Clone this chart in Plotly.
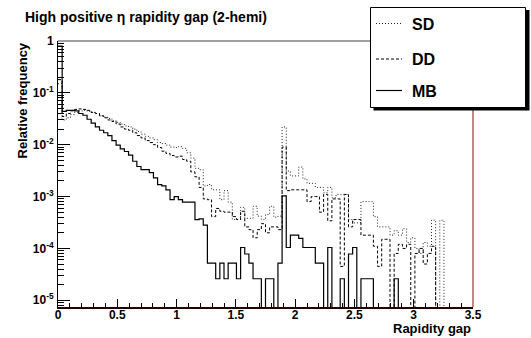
import numpy as np
import plotly.graph_objects as go

# ---------------- data ----------------
n_bins = 100
gap_min, gap_max = 0.0, 3.5

sd_freq = [0.15, 0.030, 0.033, 0.038, 0.042, 0.045, 0.046, 0.044, 0.042, 0.040,
           0.036, 0.034, 0.032, 0.029, 0.027, 0.025, 0.023, 0.022, 0.020, 0.018,
           0.016, 0.0145, 0.0135, 0.0125, 0.0110, 0.0105, 0.0098, 0.0090, 0.0088, 0.0092,
           0.0085, 0.0070, 0.0055, 0.0035, 0.0033, 0.0016, 0.0017, 0.00135, 0.00135, 0.00087,
           0.0013, 0.00078, 0.00036, 0.00036, 0.00062, 0.00038, 0.00038, 0.00065, 0.00042, 0.00036,
           0.00045, 0.00065, 0.00040, 0.00042, 0.022, 0.0031, 0.0025, 0.0025, 0.0037, 0.0022,
           0.0018, 0.0018, 0.0015, 0.0015, 0.00118, 0.0015, 0.00095, 0.0011, 0.0011, 0.0011,
           0.00036, 0.00031, 0.00031, 0.0008, 0.0008, 0.0008, 0.00041, 0.00026, 0.00026, 0.00026,
           0.00018, 0.00022, 0.00018, 0.00024, 0.00013, 0.00016, 0.00010, 0.00008, 0.00013, 0.00011,
           0.00035, 0, 0.00035, 0, 0, 0, 0, 0, 0, 0]

dd_freq = [0.18, 0.035, 0.040, 0.045, 0.048, 0.049, 0.048, 0.046, 0.042, 0.040,
           0.036, 0.033, 0.030, 0.028, 0.025, 0.022, 0.020, 0.019, 0.017, 0.015,
           0.0135, 0.012, 0.011, 0.0100, 0.0088, 0.0075, 0.0068, 0.0062, 0.0058, 0.0060,
           0.0052, 0.0048, 0.0030, 0.0024, 0.0015, 0.0009, 0.00087, 0.00041, 0.00059, 0.00052,
           0.0005, 0.0005, 0.00041, 0.00036, 0.00052, 0.00026, 0.00023, 0.00016, 0.00023, 0.0003,
           0.0002, 0.00026, 0.00026, 0.00023, 0.009, 0.0013, 0.00135, 0.00135, 0.00135, 0.00135,
           0.0008, 0.0010, 0.0010, 0.0005, 0.0011, 0.00034, 0.0009, 0.0009, 0.000045, 0.0011,
           0.00026, 0.00036, 0.00036, 0.00018, 0.00018, 0.00018, 0.00011, 0.000045, 0.00015, 0.00015,
           0, 0.00008, 0.00012, 0.0001, 0.00012, 0, 0.00008, 0.0001, 0.00005, 0.00008,
           0.00011, 0, 0, 0, 0, 0, 0, 0, 0, 0]

mb_freq = [0.8, 0.044, 0.046, 0.046, 0.045, 0.040, 0.037, 0.031, 0.026, 0.022,
           0.019, 0.017, 0.0150, 0.0120, 0.0098, 0.0083, 0.0074, 0.0063, 0.0048, 0.0038,
           0.0033, 0.0033, 0.0029, 0.0023, 0.0017, 0.0016, 0.00135, 0.00087, 0.00100, 0.00087,
           0.00078, 0.00078, 0.00078, 0.00036, 0.00037, 0.00028, 5.2e-5, 5.2e-5, 2.6e-5, 5.2e-5,
           2.6e-5, 5.2e-5, 5.2e-5, 2.6e-5, 1.04e-4, 7.8e-5, 5.2e-5, 2.6e-5, 2.6e-5, 0,
           2.6e-5, 2.6e-5, 0, 5.2e-5, 1.03e-3, 1.04e-4, 1.8e-4, 1.8e-4, 1.56e-4, 1.04e-4,
           1.04e-4, 1.04e-4, 5.2e-5, 5.2e-5, 0, 1.04e-4, 0, 0, 2.6e-5, 0,
           7.8e-5, 1.04e-4, 0, 2.6e-5, 2.6e-5, 2.6e-5, 0, 0, 0, 0,
           0, 2.6e-5, 0, 0, 0, 0, 0, 0, 0, 0,
           0, 0, 0, 0, 0, 0, 0, 0, 0, 0]

x_tick_vals = [0, 0.5, 1, 1.5, 2, 2.5, 3, 3.5]
x_tick_text = ["0", "0.5", "1", "1.5", "2", "2.5", "3", "3.5"]
y_tick_vals = [1e-5, 1e-4, 1e-3, 1e-2, 1e-1, 1]
y_tick_text = ["10<sup>-5</sup>", "10<sup>-4</sup>", "10<sup>-3</sup>",
               "10<sup>-2</sup>", "10<sup>-1</sup>", "1"]

series_names = ["SD", "DD", "MB"]

# ---------------- figure ----------------
W, H = 531, 338
ML, MR, MT, MB_ = 58, 58, 41, 31
PW, PH = W - ML - MR, H - MT - MB_

def px(x, y):
    return (x - ML) / PW, (H - MB_ - y) / PH

edges = np.linspace(gap_min, gap_max, n_bins + 1)
TINY = 1e-12

def step_y(vals):
    v = [val if val > 0 else TINY for val in vals]
    return v + [v[-1]]

styles = {
    "SD": dict(color="#222222", width=1, dash="1px,2px"),
    "DD": dict(color="black", width=1, dash="3px,2px"),
    "MB": dict(color="black", width=1.2, dash="solid"),
}
series = {"SD": sd_freq, "DD": dd_freq, "MB": mb_freq}

fig = go.Figure()
for name in series_names:
    fig.add_trace(go.Scatter(
        x=edges, y=step_y(series[name]), mode="lines", line_shape="hv",
        line=styles[name], name=name, showlegend=False, hoverinfo="skip"))

FONT = "Liberation Sans, Arial, Helvetica, sans-serif"

minor_y = [m * 10.0 ** k for k in range(-6, 1) for m in range(2, 10)]

fig.update_layout(
    width=W, height=H,
    margin=dict(l=ML, r=MR, t=MT, b=MB_, pad=0),
    paper_bgcolor="white", plot_bgcolor="white",
    font=dict(family=FONT, size=12, color="black", weight="bold"),
    xaxis=dict(range=[gap_min, gap_max], showgrid=False, zeroline=False,
               showline=True, linecolor="#200000", linewidth=1.5,
               ticks="inside", ticklen=8, tickwidth=1, tickcolor="black",
               tickmode="array", tickvals=x_tick_vals, ticktext=x_tick_text,
               tickfont=dict(size=12, family=FONT, weight="bold"),
               ticklabelstandoff=-4,
               minor=dict(ticks="inside", ticklen=4, tickwidth=1, tickcolor="black",
                          dtick=0.1, tick0=0, showgrid=False)),
    yaxis=dict(type="log", range=[-5.13, 0], showgrid=False, zeroline=False,
               showline=True, linecolor="black", linewidth=1,
               ticks="inside", ticklen=12, tickwidth=1, tickcolor="black",
               tickmode="array", tickvals=y_tick_vals, ticktext=y_tick_text,
               tickfont=dict(size=12, family=FONT, weight="bold"),
               ticklabelstandoff=1,
               minor=dict(ticks="inside", ticklen=6, tickwidth=1, tickcolor="black",
                          tickmode="array", tickvals=minor_y, showgrid=False)),
)

shapes = []
# frame top and right
shapes.append(dict(type="line", xref="paper", yref="paper", x0=0, x1=1, y0=1, y1=1,
                   line=dict(color="#404040", width=1), layer="above"))
shapes.append(dict(type="line", xref="paper", yref="paper", x0=1, x1=1, y0=0, y1=1,
                   line=dict(color="#8b1010", width=1), layer="above"))
# legend shadow and box
sx0, sy0 = px(373.5, 10)
sx1, sy1 = px(529.5, 110.5)
shapes.append(dict(type="rect", xref="paper", yref="paper", x0=sx0, x1=sx1, y0=sy0, y1=sy1,
                   fillcolor="black", line=dict(width=0), layer="above"))
bx0, by0 = px(370.5, 7.5)
bx1, by1 = px(525.5, 107.5)
shapes.append(dict(type="rect", xref="paper", yref="paper", x0=bx0, x1=bx1, y0=by0, y1=by1,
                   fillcolor="white", line=dict(color="black", width=1), layer="above"))

annotations = []
legend_rows = {"SD": 23.5, "DD": 59.0, "MB": 90.5}
for name in series_names:
    yy = legend_rows[name]
    lx0, ly = px(376, yy)
    lx1, _ = px(402, yy)
    st = styles[name]
    shapes.append(dict(type="line", xref="paper", yref="paper", x0=lx0, x1=lx1, y0=ly, y1=ly,
                       line=dict(color=st["color"], width=st["width"], dash=st["dash"]),
                       layer="above"))
    tx, ty = px(409.5, yy + 0.5)
    annotations.append(dict(text="<b>" + name + "</b>", xref="paper", yref="paper", x=tx, y=ty,
                            xanchor="left", yanchor="middle", showarrow=False,
                            font=dict(size=16, family=FONT, weight="bold")))

# title
tx, ty = px(22.5, 17.5)
annotations.append(dict(text="High positive \u03b7 rapidity gap (2-hemi)", xref="paper", yref="paper",
                        x=tx, y=ty, xanchor="left", yanchor="middle", showarrow=False,
                        font=dict(size=14, family=FONT, weight="bold")))
# y title
tx, ty = px(21.5, 41)
annotations.append(dict(text="Relative frequency", xref="paper", yref="paper",
                        x=tx, y=ty, xanchor="center", yanchor="top", textangle=-90,
                        showarrow=False, font=dict(size=13, family=FONT, weight="bold")))
# x title
tx, ty = px(473, 328.5)
annotations.append(dict(text="Rapidity gap", xref="paper", yref="paper",
                        x=tx, y=ty, xanchor="right", yanchor="middle",
                        showarrow=False, font=dict(size=13, family=FONT, weight="bold")))

fig.update_layout(shapes=shapes, annotations=annotations)
fig.write_html("out.html")
